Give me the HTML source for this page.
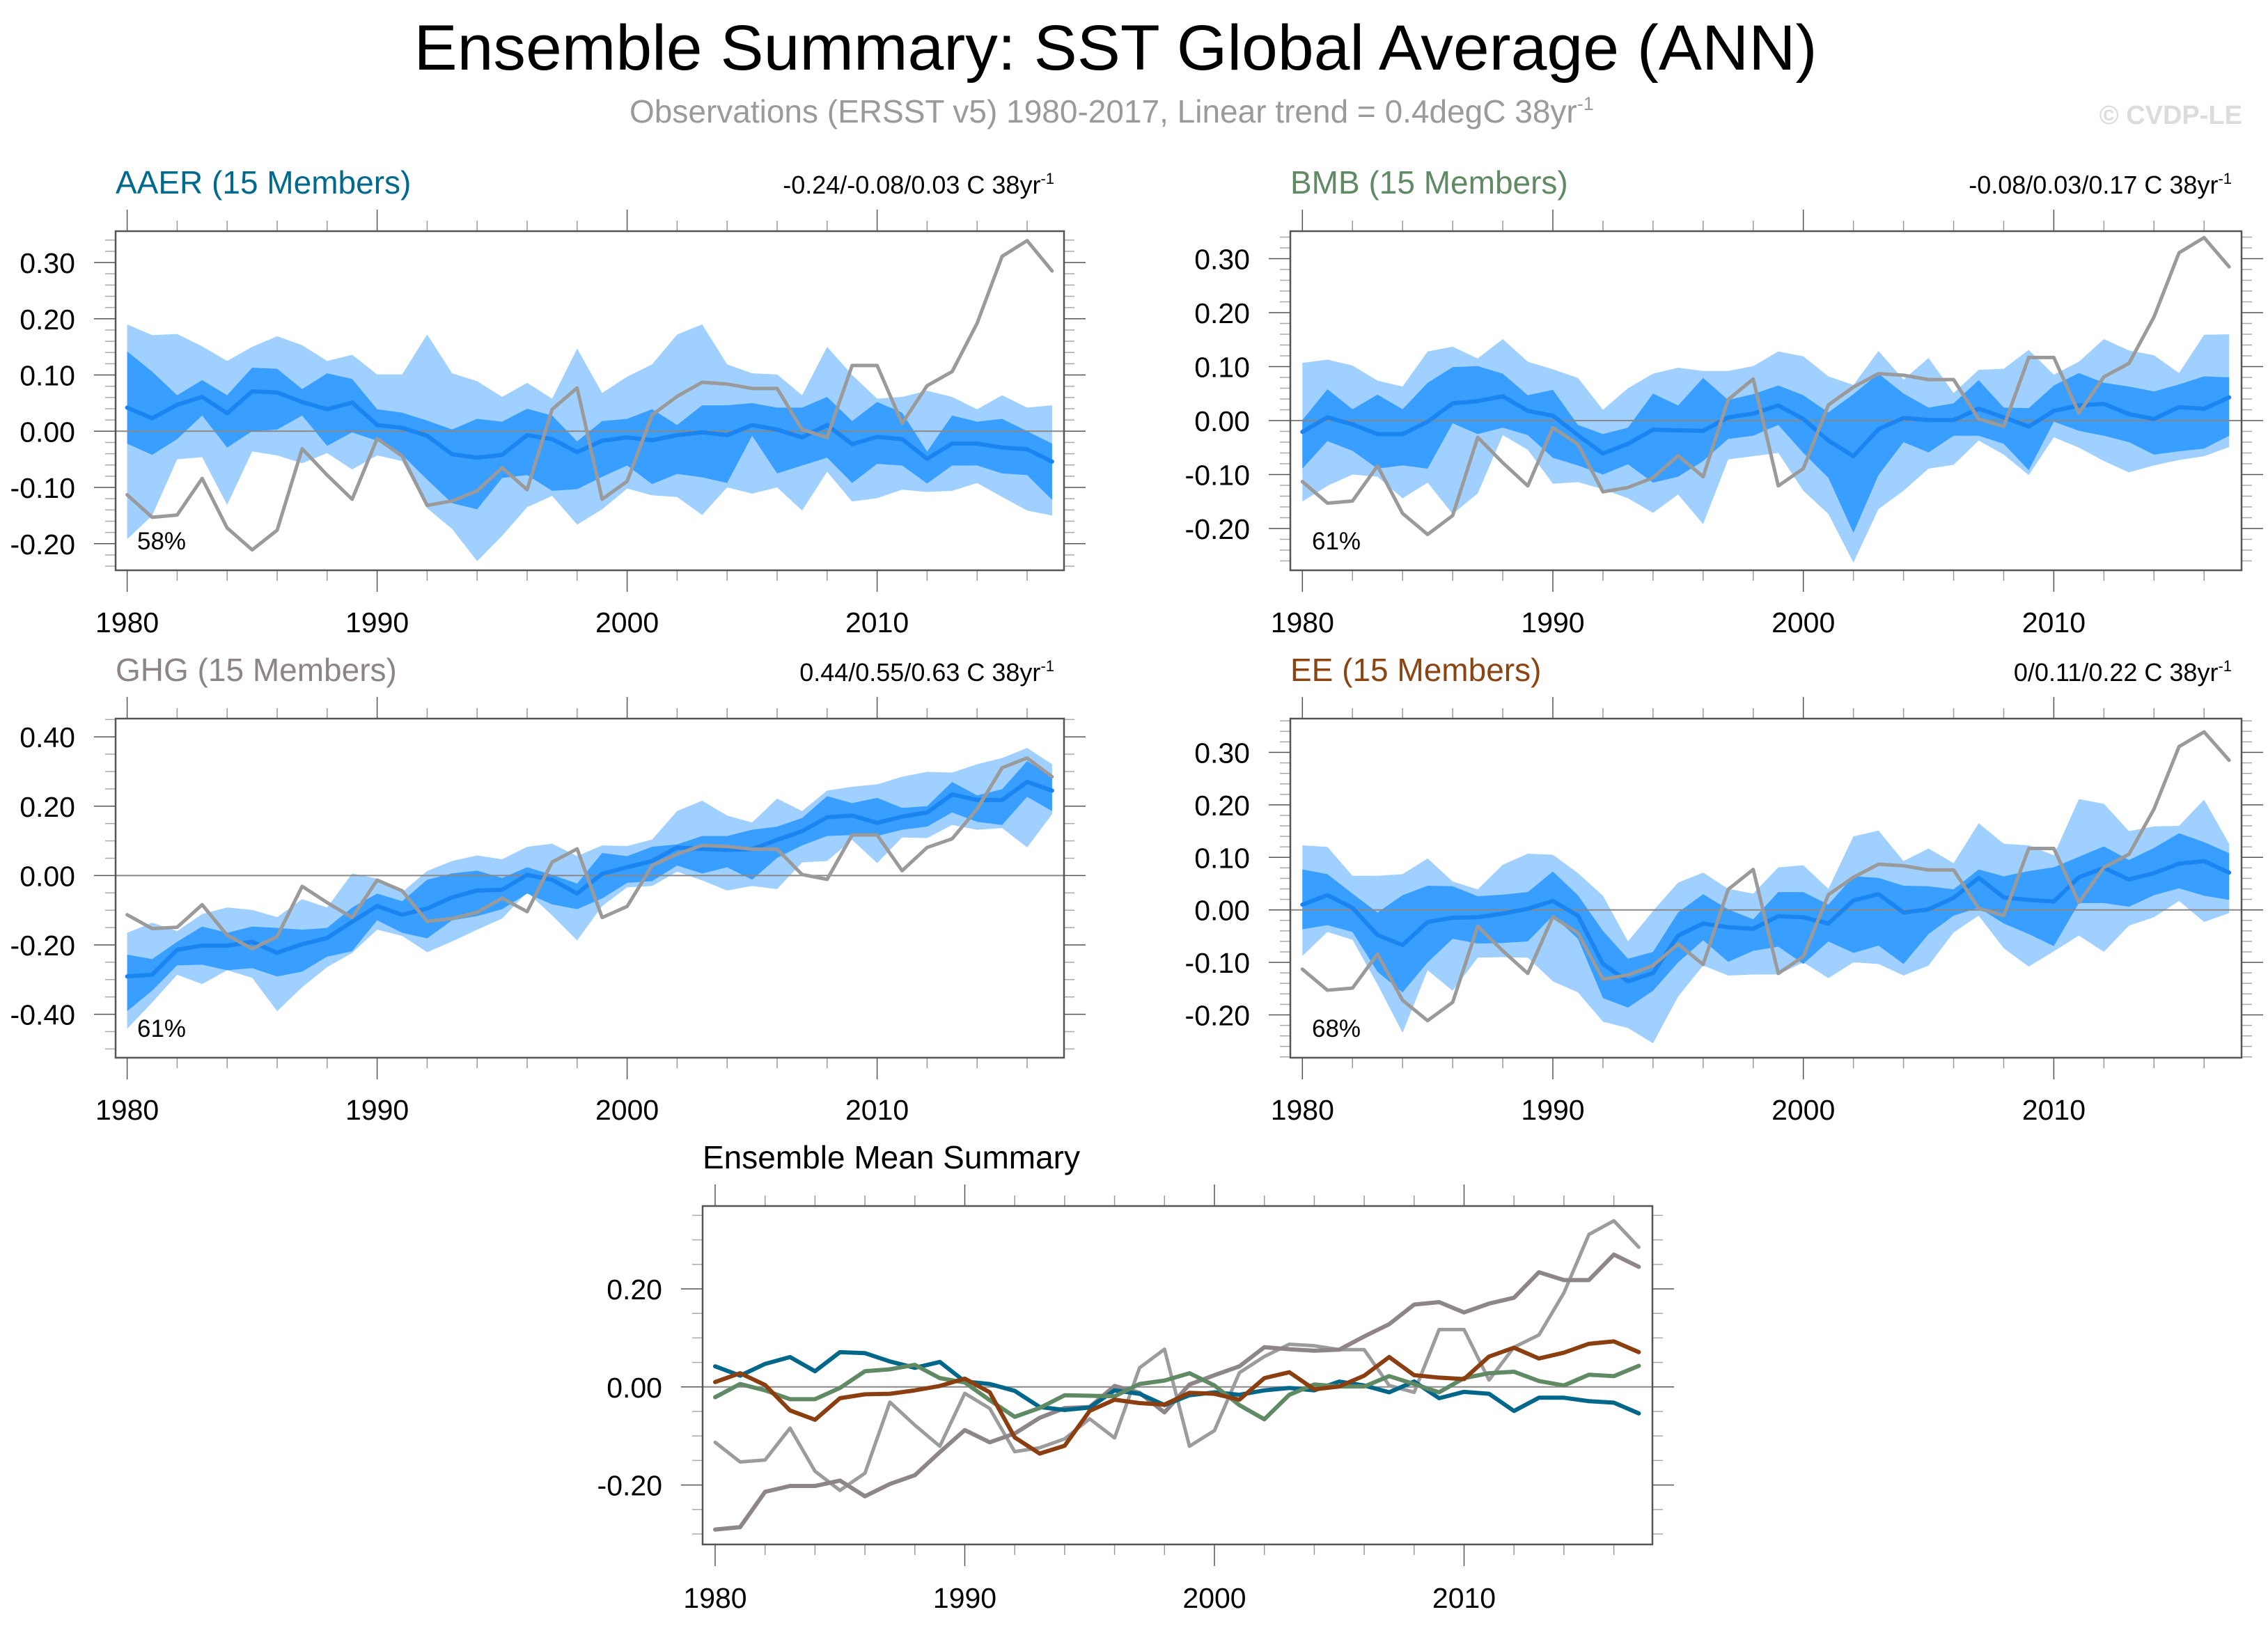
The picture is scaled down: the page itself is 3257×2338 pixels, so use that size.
<!DOCTYPE html>
<html><head><meta charset="utf-8"><title>Ensemble Summary: SST Global Average (ANN)</title>
<style>html,body{margin:0;padding:0;background:#fff}svg{display:block}text{font-family:"Liberation Sans",sans-serif}</style>
</head><body>
<svg id="chart" xmlns="http://www.w3.org/2000/svg" width="3257" height="2338" viewBox="0 0 3257 2338">
<rect x="0" y="0" width="3257" height="2338" fill="#fff"/>
<text x="1602" y="100" font-size="92" text-anchor="middle" fill="#000" textLength="2015" lengthAdjust="spacingAndGlyphs">Ensemble Summary: SST Global Average (ANN)</text>
<text x="904" y="176" font-size="46" fill="#9a9a9a">Observations (ERSST v5) 1980-2017, Linear trend = 0.4degC 38yr<tspan dy="-18" font-size="27">-1</tspan></text>
<text x="3220" y="178" font-size="38" font-weight="bold" fill="#dcdcdc" text-anchor="end">© CVDP-LE</text>
<g id="plots"></g>
</svg>
<script>
const years = [1980,1981,1982,1983,1984,1985,1986,1987,1988,1989,1990,1991,1992,1993,1994,1995,1996,1997,1998,1999,2000,2001,2002,2003,2004,2005,2006,2007,2008,2009,2010,2011,2012,2013,2014,2015,2016,2017];
const obs = [-0.113,-0.153,-0.149,-0.084,-0.172,-0.211,-0.176,-0.031,-0.078,-0.121,-0.013,-0.044,-0.132,-0.124,-0.106,-0.065,-0.104,0.039,0.077,-0.121,-0.089,0.029,0.062,0.087,0.084,0.076,0.076,0.003,-0.011,0.117,0.117,0.014,0.081,0.106,0.192,0.311,0.339,0.285];

const aaerMean = [0.042,0.023,0.047,0.061,0.032,0.071,0.069,0.052,0.039,0.051,0.011,0.006,-0.008,-0.041,-0.047,-0.042,-0.007,-0.014,-0.037,-0.017,-0.011,-0.016,-0.007,-0.002,-0.007,0.011,0.003,-0.011,0.011,-0.023,-0.010,-0.014,-0.049,-0.022,-0.022,-0.029,-0.032,-0.054];
const aaerDarkHi = [0.142,0.106,0.064,0.091,0.064,0.113,0.111,0.075,0.103,0.093,0.039,0.033,0.019,0.003,0.022,0.017,0.040,0.028,-0.018,0.018,0.022,0.039,0.011,0.046,0.046,0.050,0.042,0.042,0.061,0.018,0.052,0.033,-0.036,0.028,0.017,0.022,0.000,-0.022];
const aaerDarkLo = [-0.022,-0.042,-0.014,0.028,-0.029,0.000,0.003,0.028,-0.026,-0.002,-0.017,-0.042,-0.086,-0.128,-0.139,-0.083,-0.078,-0.106,-0.103,-0.081,-0.061,-0.094,-0.076,-0.082,-0.092,-0.008,-0.075,-0.061,-0.047,-0.092,-0.058,-0.061,-0.093,-0.061,-0.061,-0.075,-0.078,-0.122];
const aaerLightHi = [0.190,0.171,0.173,0.151,0.125,0.150,0.169,0.153,0.125,0.136,0.101,0.101,0.172,0.103,0.089,0.061,0.086,0.058,0.147,0.068,0.097,0.119,0.172,0.190,0.119,0.103,0.101,0.064,0.150,0.100,0.058,0.061,0.072,0.061,0.039,0.064,0.042,0.046];
const aaerLightLo = [-0.192,-0.150,-0.050,-0.046,-0.131,-0.036,-0.043,-0.057,-0.039,-0.068,-0.043,-0.053,-0.137,-0.174,-0.231,-0.186,-0.135,-0.115,-0.166,-0.139,-0.102,-0.114,-0.117,-0.149,-0.100,-0.111,-0.100,-0.141,-0.072,-0.125,-0.119,-0.104,-0.108,-0.106,-0.092,-0.117,-0.141,-0.150];

const bmbMean = [-0.021,0.006,-0.007,-0.025,-0.025,-0.002,0.032,0.036,0.045,0.018,0.009,-0.027,-0.061,-0.043,-0.017,-0.018,-0.019,0.006,0.013,0.028,0.003,-0.037,-0.066,-0.016,0.005,0.001,0.001,0.022,0.006,-0.011,0.018,0.028,0.031,0.012,0.003,0.025,0.022,0.043];
const bmbDarkHi = [0.001,0.058,0.021,0.048,0.021,0.070,0.099,0.101,0.087,0.047,0.057,-0.008,-0.025,-0.013,0.050,0.028,0.079,0.038,0.049,0.065,0.047,0.015,0.049,0.087,0.050,0.024,0.032,0.075,0.024,0.023,0.065,0.088,0.070,0.063,0.054,0.067,0.082,0.080];
const bmbDarkLo = [-0.089,-0.038,-0.056,-0.089,-0.083,-0.089,-0.005,-0.025,-0.013,-0.027,-0.069,-0.083,-0.100,-0.081,-0.115,-0.104,-0.075,-0.034,-0.028,-0.008,-0.060,-0.106,-0.208,-0.101,-0.040,-0.059,-0.028,-0.028,-0.043,-0.092,-0.002,-0.019,-0.028,-0.040,-0.063,-0.057,-0.052,-0.028];
const bmbLightHi = [0.107,0.113,0.102,0.074,0.063,0.128,0.137,0.115,0.151,0.109,0.095,0.079,0.020,0.060,0.087,0.098,0.092,0.092,0.101,0.128,0.119,0.082,0.066,0.129,0.076,0.116,0.051,0.094,0.096,0.131,0.085,0.109,0.151,0.130,0.121,0.088,0.159,0.160];
const bmbLightLo = [-0.150,-0.121,-0.100,-0.104,-0.144,-0.115,-0.173,-0.135,-0.027,-0.054,-0.117,-0.114,-0.127,-0.144,-0.171,-0.137,-0.192,-0.072,-0.066,-0.060,-0.130,-0.173,-0.263,-0.164,-0.130,-0.089,-0.082,-0.037,-0.063,-0.101,-0.031,-0.050,-0.075,-0.096,-0.083,-0.073,-0.066,-0.049];

const ghgMean = [-0.291,-0.286,-0.214,-0.202,-0.202,-0.191,-0.223,-0.198,-0.180,-0.133,-0.088,-0.113,-0.095,-0.063,-0.043,-0.041,0.002,-0.012,-0.052,0.005,0.024,0.042,0.081,0.077,0.074,0.076,0.103,0.128,0.168,0.173,0.152,0.170,0.182,0.234,0.218,0.218,0.270,0.245];
const ghgDarkHi = [-0.228,-0.241,-0.191,-0.147,-0.165,-0.147,-0.151,-0.156,-0.151,-0.092,-0.052,-0.074,-0.012,0.006,0.014,-0.007,0.024,0.002,-0.023,0.065,0.056,0.083,0.090,0.114,0.114,0.132,0.141,0.166,0.229,0.209,0.224,0.195,0.200,0.270,0.231,0.249,0.330,0.285];
const ghgDarkLo = [-0.391,-0.332,-0.259,-0.257,-0.273,-0.267,-0.291,-0.277,-0.234,-0.218,-0.129,-0.165,-0.181,-0.129,-0.117,-0.097,-0.052,-0.083,-0.097,-0.066,-0.021,-0.016,0.029,0.006,0.024,-0.012,0.051,0.087,0.114,0.117,0.114,0.132,0.141,0.182,0.155,0.146,0.227,0.186];
const ghgLightHi = [-0.165,-0.136,-0.160,-0.111,-0.092,-0.099,-0.120,-0.068,-0.092,0.006,-0.009,-0.048,0.013,0.042,0.058,0.047,0.083,0.092,0.056,0.087,0.085,0.104,0.186,0.216,0.173,0.153,0.222,0.186,0.245,0.256,0.263,0.285,0.299,0.297,0.321,0.339,0.368,0.321];
const ghgLightLo = [-0.442,-0.366,-0.286,-0.313,-0.273,-0.295,-0.391,-0.322,-0.264,-0.223,-0.156,-0.174,-0.221,-0.190,-0.156,-0.124,-0.048,-0.115,-0.187,-0.088,-0.034,-0.030,0.011,-0.014,-0.043,-0.030,-0.039,0.038,0.042,0.103,0.036,0.110,0.108,0.146,0.132,0.137,0.081,0.177];

const eeMean = [0.010,0.028,0.004,-0.048,-0.067,-0.023,-0.015,-0.014,-0.007,0.002,0.017,-0.011,-0.103,-0.136,-0.120,-0.049,-0.026,-0.033,-0.036,-0.012,-0.014,-0.026,0.018,0.030,-0.005,0.001,0.023,0.061,0.024,0.019,0.016,0.062,0.080,0.058,0.070,0.088,0.093,0.071];
const eeDarkHi = [0.077,0.068,0.031,-0.005,0.028,0.046,0.045,0.026,0.029,0.034,0.073,0.028,-0.040,-0.093,-0.080,-0.005,0.030,0.001,-0.018,0.034,0.034,0.010,0.064,0.061,0.046,0.045,0.039,0.077,0.064,0.074,0.081,0.101,0.121,0.095,0.118,0.146,0.129,0.108];
const eeDarkLo = [-0.037,-0.029,-0.042,-0.118,-0.157,-0.100,-0.055,-0.064,-0.063,-0.060,-0.011,-0.055,-0.168,-0.186,-0.154,-0.100,-0.058,-0.099,-0.078,-0.070,-0.103,-0.060,-0.082,-0.068,-0.103,-0.046,-0.011,0.004,-0.026,-0.046,-0.069,0.013,0.013,0.006,0.028,0.041,0.027,0.019];
const eeLightHi = [0.123,0.120,0.065,0.065,0.068,0.098,0.054,0.039,0.086,0.107,0.105,0.070,0.027,-0.060,-0.002,0.052,0.071,0.040,0.031,0.081,0.085,0.040,0.140,0.151,0.093,0.117,0.089,0.165,0.126,0.123,0.104,0.211,0.202,0.150,0.159,0.160,0.210,0.126];
const eeLightLo = [-0.088,-0.042,-0.057,-0.142,-0.234,-0.115,-0.154,-0.091,-0.090,-0.091,-0.136,-0.157,-0.213,-0.225,-0.254,-0.165,-0.106,-0.125,-0.123,-0.123,-0.100,-0.130,-0.100,-0.103,-0.125,-0.106,-0.043,-0.011,-0.073,-0.108,-0.079,-0.049,-0.080,-0.030,-0.014,0.017,-0.023,-0.006];

const yTicksSmall = [-0.20,-0.10,0.00,0.10,0.20,0.30];
const yTickLabelsSmall = ["-0.20","-0.10","0.00","0.10","0.20","0.30"];
const yTicksGhg = [-0.40,-0.20,0.00,0.20,0.40];
const yTickLabelsGhg = ["-0.40","-0.20","0.00","0.20","0.40"];
const yTicksSummary = [-0.20,0.00,0.20];
const yTickLabelsSummary = ["-0.20","0.00","0.20"];
const xTicks = [1980,1990,2000,2010];
const xTickLabels = ["1980","1990","2000","2010"];

const NS = "http://www.w3.org/2000/svg";
const root = document.getElementById('plots');
function mk(tag, attrs, parent){
  const e = document.createElementNS(NS, tag);
  for (const k in attrs) e.setAttribute(k, attrs[k]);
  (parent||root).appendChild(e);
  return e;
}

function panel(cfg){
  const g = mk('g', {});
  
  
  const X = yr => cfg.x0 + (yr - 1980) * cfg.dx;
  const Y = v => cfg.y0 - v * cfg.k;
  const tg = mk('g', {'stroke-width':1.5}, g);
  
  
  for (let yr = 1980; yr <= 2016; yr += 2){
    const major = yr % 10 === 0;
    const len = major ? 31 : 15;
    const x = X(yr);
    const col = major ? '#555' : '#999';
    mk('line', {x1:x, x2:x, y1:cfg.top, y2:cfg.top-len, stroke:col}, tg);
    mk('line', {x1:x, x2:x, y1:cfg.bot, y2:cfg.bot+len, stroke:col}, tg);
  }
  const ymin = (cfg.y0 - cfg.bot)/cfg.k, ymax = (cfg.y0 - cfg.top)/cfg.k;
  const nStart = Math.ceil(ymin/cfg.minor - 1e-6), nEnd = Math.floor(ymax/cfg.minor + 1e-6);
  for (let n = nStart; n <= nEnd; n++){
    const v = n*cfg.minor;
    const major = cfg.majors.some(m => Math.abs(m - v) < 1e-6);
    const len = major ? 31 : 15;
    const y = Y(v);
    const col = major ? '#555' : '#aaa';
    mk('line', {x1:cfg.left, x2:cfg.left-len, y1:y, y2:y, stroke:col}, tg);
    mk('line', {x1:cfg.right, x2:cfg.right+len, y1:y, y2:y, stroke:col}, tg);
  }
  if (cfg.lightHi){
    const pl = years.map((yr,i)=>X(yr)+','+Y(cfg.lightHi[i])).concat(years.slice().reverse().map((yr,j)=>X(yr)+','+Y(cfg.lightLo[years.length-1-j])));
    const p1 = mk('polygon', {points:pl.join(' '), fill:'#a0d0ff'}, g);
    
    
    const pd = years.map((yr,i)=>X(yr)+','+Y(cfg.darkHi[i])).concat(years.slice().reverse().map((yr,j)=>X(yr)+','+Y(cfg.darkLo[years.length-1-j])));
    const p2 = mk('polygon', {points:pd.join(' '), fill:'#389eff'}, g);
    
    
  }
  const z = mk('line', {x1:cfg.left, x2:cfg.right, y1:Y(0), y2:Y(0), stroke:'#888', 'stroke-width':2}, g);
  
  
  cfg.series.forEach(s => {
    const pts = years.map((yr,i)=>X(yr)+','+Y(s.data[i])).join(' ');
    const l = mk('polyline', {points:pts, fill:'none', stroke:s.color, 'stroke-width':s.w, 'stroke-linejoin':'round', 'stroke-linecap':'round'}, g);
    
    
  });
  const fr = mk('rect', {x:cfg.left, y:cfg.top, width:cfg.right-cfg.left, height:cfg.bot-cfg.top, fill:'none', stroke:'#555', 'stroke-width':2.5}, g);
  
  
  cfg.yTicks.forEach((v,i)=>{
    const t = mk('text', {x:cfg.left-58, y:Y(v)+15, 'font-size':41, 'text-anchor':'end', fill:'#000'}, g);
    t.textContent = cfg.yLabels[i];
    
    
  });
  xTicks.forEach((yr,i)=>{
    const t = mk('text', {x:X(yr), y:cfg.xLabelY, 'font-size':41, 'text-anchor':'middle', fill:'#000'}, g);
    t.textContent = xTickLabels[i];
    
    
  });
  const tt = mk('text', {x:cfg.left, y:cfg.top-54, 'font-size':46, fill:cfg.titleColor}, g);
  tt.textContent = cfg.title;
  
  
  if (cfg.trend){
    const tr = mk('text', {x:cfg.right-14, y:cfg.top-54, 'font-size':36, 'text-anchor':'end', fill:'#000'}, g);
    tr.textContent = cfg.trend;
    const sup = mk('tspan', {dy:-14, 'font-size':22}, tr);
    sup.textContent = '-1';
    
    
  }
  if (cfg.pct){
    const pc = mk('text', {x:cfg.left+31, y:cfg.bot-30, 'font-size':35, fill:'#000'}, g);
    pc.textContent = cfg.pct;
    
    
  }
}

const meanCol = '#1a84f0', obsCol = '#9a9a9a';
panel({name:'aaer', x0:182.6, dx:35.9, y0:619.3, k:807.5, left:166, right:1528, top:332, bot:819, minor:0.02, majors:yTicksSmall,
  yTicks:yTicksSmall, yLabels:yTickLabelsSmall, xLabelY:908, title:'AAER (15 Members)', titleColor:'#006a8e', trend:'-0.24/-0.08/0.03 C 38yr', pct:'58%',
  lightHi:aaerLightHi, lightLo:aaerLightLo, darkHi:aaerDarkHi, darkLo:aaerDarkLo,
  series:[{data:aaerMean, color:meanCol, w:6, name:'aaer-ensemble-mean-line'},{data:obs, color:obsCol, w:5, name:'aaer-observations-line'}]});
panel({name:'bmb', x0:1870.3, dx:35.97, y0:604, k:775, left:1853, right:3219, top:332, bot:819, minor:0.02, majors:yTicksSmall,
  yTicks:yTicksSmall, yLabels:yTickLabelsSmall, xLabelY:908, title:'BMB (15 Members)', titleColor:'#5f8a63', trend:'-0.08/0.03/0.17 C 38yr', pct:'61%',
  lightHi:bmbLightHi, lightLo:bmbLightLo, darkHi:bmbDarkHi, darkLo:bmbDarkLo,
  series:[{data:bmbMean, color:meanCol, w:6, name:'bmb-ensemble-mean-line'},{data:obs, color:obsCol, w:5, name:'bmb-observations-line'}]});
panel({name:'ghg', x0:182.6, dx:35.9, y0:1257.4, k:498, left:166, right:1528, top:1032, bot:1519, minor:0.05, majors:yTicksGhg,
  yTicks:yTicksGhg, yLabels:yTickLabelsGhg, xLabelY:1608, title:'GHG (15 Members)', titleColor:'#8c8489', trend:'0.44/0.55/0.63 C 38yr', pct:'61%',
  lightHi:ghgLightHi, lightLo:ghgLightLo, darkHi:ghgDarkHi, darkLo:ghgDarkLo,
  series:[{data:ghgMean, color:meanCol, w:6, name:'ghg-ensemble-mean-line'},{data:obs, color:obsCol, w:5, name:'ghg-observations-line'}]});
panel({name:'ee', x0:1870.3, dx:35.97, y0:1306.7, k:754, left:1853, right:3219, top:1032, bot:1519, minor:0.02, majors:yTicksSmall,
  yTicks:yTicksSmall, yLabels:yTickLabelsSmall, xLabelY:1608, title:'EE (15 Members)', titleColor:'#8b4513', trend:'0/0.11/0.22 C 38yr', pct:'68%',
  lightHi:eeLightHi, lightLo:eeLightLo, darkHi:eeDarkHi, darkLo:eeDarkLo,
  series:[{data:eeMean, color:meanCol, w:6, name:'ee-ensemble-mean-line'},{data:obs, color:obsCol, w:5, name:'ee-observations-line'}]});
panel({name:'summary', x0:1027, dx:35.85, y0:1991.8, k:704, left:1009, right:2373, top:1732, bot:2218, minor:0.05, majors:yTicksSummary,
  yTicks:yTicksSummary, yLabels:yTickLabelsSummary, xLabelY:2309, title:'Ensemble Mean Summary', titleColor:'#000',
  series:[{data:obs, color:'#9c9c9c', w:5, name:'summary-observations-line'},
          {data:ghgMean, color:'#8d8589', w:6, name:'summary-ghg-mean-line'},
          {data:aaerMean, color:'#00678a', w:6, name:'summary-aaer-mean-line'},
          {data:bmbMean, color:'#5f8a63', w:6, name:'summary-bmb-mean-line'},
          {data:eeMean, color:'#8b3e0f', w:6, name:'summary-ee-mean-line'}]});
</script>
</body></html>
